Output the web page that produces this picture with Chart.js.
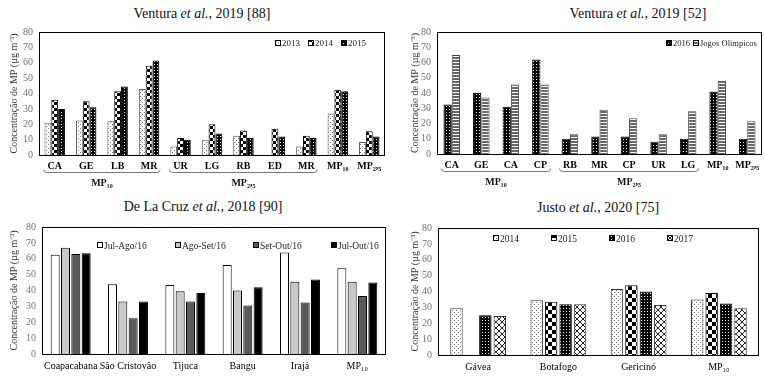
<!DOCTYPE html>
<html lang="pt">
<head>
<meta charset="UTF-8">
<title>Concentração de MP</title>
<script src="https://cdn.jsdelivr.net/npm/chart.js"></script>
<style>
    body {
        margin: 0;
        width: 765px;
        height: 376px;
        overflow: hidden;
        position: relative;
        background: #fff;
        font-family: "Liberation Serif", "Times New Roman", serif;
    }
    canvas { position: absolute; }
    .title {
        position: absolute;
        font-size: 14px;
        color: #111;
        white-space: nowrap;
        transform: translate(-50%, -50%);
    }
</style>
</head>
<body>
<div class="title" style="left:202px;top:14px">Ventura <i>et al.</i>, 2019 [88]</div>
<div class="title" style="left:638px;top:14px">Ventura <i>et al.</i>, 2019 [52]</div>
<div class="title" style="left:203px;top:207px">De La Cruz <i>et al.</i>, 2018 [90]</div>
<div class="title" style="left:598px;top:208px">Justo <i>et al.</i>, 2020 [75]</div>

<canvas id="tl" width="388" height="190" style="left:0;top:0"></canvas>
<canvas id="tr" width="377" height="190" style="left:388px;top:0"></canvas>
<canvas id="bl" width="388" height="186" style="left:0;top:190px"></canvas>
<canvas id="br" width="377" height="186" style="left:388px;top:190px"></canvas>

<script>
// Ventura et al., 2019 [88]
const tlCategories = ['CA', 'GE', 'LB', 'MR', 'UR', 'LG', 'RB', 'ED', 'MR', 'MP₁₀', 'MP₂,₅'];
const tl2013 = [21, 22.5, 22, 43, 5.5, 10, 12.5, null, 5.5, 27, 8.5];
const tl2014 = [36, 35, 41.5, 58, 11, 20, 16, 17, 12.5, 42.5, 15.5];
const tl2015 = [30, 31, 44.5, 61.5, 10, 14, 11, 12, 11, 41.5, 12];
const tlGroups = [{label: 'MP₁₀', from: 0, to: 3}, {label: 'MP₂,₅', from: 4, to: 8}];

// Ventura et al., 2019 [52]
const trCategories = ['CA', 'GE', 'CA', 'CP', 'RB', 'MR', 'CP', 'UR', 'LG', 'MP₁₀', 'MP₂,₅'];
const tr2016 = [32.5, 40, 31, 62, 10, 11.5, 11.5, 8, 10, 41, 10];
const trJogos = [65, 37, 45.5, 45.5, 13, 29, 23.5, 13, 28, 48, 21.5];
const trGroups = [{label: 'MP₁₀', from: 0, to: 3}, {label: 'MP₂,₅', from: 4, to: 8}];

// De La Cruz et al., 2018 [90]
const blCategories = ['Coapacabana', 'São Cristovão', 'Tijuca', 'Bangu', 'Irajá', 'MP₁₀'];
const blJulAgo = [62.5, 44, 43.5, 56, 64, 54];
const blAgoSet = [67, 33, 39.5, 40, 45.5, 45.5];
const blSetOut = [63, 22.5, 33, 30.5, 32.5, 36.5];
const blJulOut = [63.5, 33, 38.5, 42, 47, 45];

// Justo et al., 2020 [75]
const brCategories = ['Gávea', 'Botafogo', 'Gericinó', 'MP₁₀'];
const br2014 = [29.5, 34.5, 41.5, 35];
const br2015 = [null, 33.5, 44, 39];
const br2016 = [25, 32, 40, 32.5];
const br2017 = [24.5, 32, 31.5, 29.5];

const yTicksMax = 80;
const yTitle = 'Concentração de MP (µg m⁻³)';
const serif = '"Liberation Serif", "Times New Roman", serif';

// small tiles used as bar fills
function tile(w, h, draw) {
    const c = document.createElement('canvas');
    c.width = w; c.height = h;
    const g = c.getContext('2d');
    draw(g, w, h);
    return g.createPattern(c, 'repeat');
}
const lightDots = tile(4, 4, g => {
    g.fillStyle = '#fff'; g.fillRect(0, 0, 4, 4);
    g.fillStyle = '#777'; g.fillRect(0, 0, 1, 1); g.fillRect(2, 2, 1, 1);
});
const checkerSmall = tile(6, 6, g => {
    g.fillStyle = '#fff'; g.fillRect(0, 0, 6, 6);
    g.fillStyle = '#000'; g.fillRect(0, 0, 3, 3); g.fillRect(3, 3, 3, 3);
});
const checkerBig = tile(8, 8, g => {
    g.fillStyle = '#fff'; g.fillRect(0, 0, 8, 8);
    g.fillStyle = '#000'; g.fillRect(0, 0, 4, 4); g.fillRect(4, 4, 4, 4);
});
const darkDots = tile(3, 3, g => {
    g.fillStyle = '#000'; g.fillRect(0, 0, 3, 3);
    g.fillStyle = '#eee'; g.fillRect(1, 1, 1, 1);
});
const hStripes = tile(1, 3, g => {
    g.fillStyle = '#666'; g.fillRect(0, 0, 1, 2);
    g.fillStyle = '#fff'; g.fillRect(0, 2, 1, 1);
});
const diamonds = tile(6, 6, g => {
    g.fillStyle = '#fff'; g.fillRect(0, 0, 6, 6);
    g.fillStyle = '#222';
    for (let i = 0; i < 6; i++) { g.fillRect(i, i, 1, 1); g.fillRect(5 - i, i, 1, 1); }
});

// plot box, legend inside plot area, brackets under the category axis
const extras = {
    id: 'extras',
    afterDraw(chart, args, opts) {
        const ctx = chart.ctx;
        const a = chart.chartArea;
        ctx.save();
        ctx.lineWidth = 1;
        ctx.strokeStyle = '#000';
        ctx.strokeRect(Math.round(a.left) + 0.5, Math.round(a.top) + 0.5,
            Math.round(a.right - a.left) - 1, Math.round(a.bottom - a.top));

        const lg = opts.legend;
        ctx.font = lg.size + 'px ' + serif;
        ctx.textBaseline = 'middle';
        ctx.textAlign = 'left';
        chart.data.datasets.forEach((ds, i) => {
            const x = lg.x + i * lg.step;
            const y = lg.y;
            ctx.fillStyle = ds.backgroundColor;
            ctx.fillRect(x, y - 3, 6, 6);
            ctx.strokeStyle = '#000';
            ctx.strokeRect(x + 0.5, y - 2.5, 5, 5);
            ctx.fillStyle = '#222';
            ctx.fillText(ds.label, x + 7, y + 1);
        });

        const xs = chart.scales.x;
        const half = (xs.getPixelForTick(1) - xs.getPixelForTick(0)) * 0.35;
        (opts.groups || []).forEach(g => {
            const x0 = xs.getPixelForTick(g.from) - half;
            const x1 = xs.getPixelForTick(g.to) + half;
            const y = Math.round(a.bottom) + 17.5;
            ctx.strokeStyle = '#777';
            ctx.beginPath();
            ctx.moveTo(x0, y - 3);
            ctx.quadraticCurveTo(x0, y, x0 + 3, y);
            ctx.lineTo(x1 - 3, y);
            ctx.quadraticCurveTo(x1, y, x1, y - 3);
            ctx.stroke();
            ctx.fillStyle = '#111';
            ctx.font = 'bold 10px ' + serif;
            ctx.textAlign = 'center';
            ctx.fillText(g.label, (x0 + x1) / 2, a.bottom + 28);
        });
        ctx.restore();
    }
};

function makeChart(id, labels, datasets, cfg) {
    return new Chart(document.getElementById(id), {
        type: 'bar',
        data: {
            labels: labels,
            datasets: datasets.map(d => Object.assign({
                borderColor: '#000',
                borderWidth: 1,
                categoryPercentage: cfg.cat,
                barPercentage: cfg.bar
            }, d))
        },
        options: {
            responsive: false,
            animation: false,
            devicePixelRatio: 1,
            layout: { padding: cfg.padding },
            plugins: {
                legend: { display: false },
                tooltip: { enabled: false },
                extras: { legend: cfg.legend, groups: cfg.groups }
            },
            scales: {
                x: {
                    grid: { display: false, drawTicks: false },
                    border: { display: false },
                    ticks: {
                        color: '#000',
                        autoSkip: false,
                        maxRotation: 0,
                        padding: cfg.xPad,
                        font: { family: serif, size: 10, weight: cfg.xBold ? 'bold' : 'normal' }
                    },
                    afterFit: s => { s.height = cfg.xHeight; }
                },
                y: {
                    min: 0,
                    max: yTicksMax,
                    grid: { display: false, drawTicks: false },
                    border: { display: false },
                    ticks: { stepSize: 10, color: '#707070', padding: 6, font: { family: serif, size: 10 } },
                    title: {
                        display: true,
                        text: yTitle,
                        color: '#333',
                        font: { family: serif, size: 10 },
                        padding: { top: 8, bottom: 0 }
                    },
                    afterFit: s => { s.width = cfg.yWidth; }
                }
            }
        },
        plugins: [extras]
    });
}

makeChart('tl', tlCategories, [
    { label: '2013', data: tl2013, backgroundColor: lightDots, borderColor: '#555' },
    { label: '2014', data: tl2014, backgroundColor: checkerSmall },
    { label: '2015', data: tl2015, backgroundColor: darkDots }
], {
    cat: 0.65, bar: 1, padding: { left: 0, right: 3, top: 32, bottom: 0 },
    yWidth: 39, xHeight: 35, xPad: 5, xBold: true,
    legend: { x: 275, y: 43, step: 33, size: 9 }, groups: tlGroups
});

makeChart('tr', trCategories, [
    { label: '2016', data: tr2016, backgroundColor: darkDots },
    { label: 'Jogos Olimpicos', data: trJogos, backgroundColor: hStripes, borderColor: '#444' }
], {
    cat: 0.56, bar: 1, padding: { left: 13, right: 3, top: 32, bottom: 0 },
    yWidth: 36, xHeight: 36, xPad: 5, xBold: true,
    legend: { x: 278, y: 43, step: 27, size: 8.5 }, groups: trGroups
});

makeChart('bl', blCategories, [
    { label: 'Jul-Ago/16', data: blJulAgo, backgroundColor: '#ffffff' },
    { label: 'Ago-Set/16', data: blAgoSet, backgroundColor: '#c8c8c8' },
    { label: 'Set-Out/16', data: blSetOut, backgroundColor: '#5a5a5a' },
    { label: 'Jul-Out/16', data: blJulOut, backgroundColor: '#000000' }
], {
    cat: 0.72, bar: 0.87, padding: { left: 0, right: 2, top: 37, bottom: 0 },
    yWidth: 42, xHeight: 22, xPad: 6, xBold: false,
    legend: { x: 97, y: 55, step: 78, size: 9.5 }, groups: []
});

makeChart('br', brCategories, [
    { label: '2014', data: br2014, backgroundColor: lightDots, borderColor: '#333' },
    { label: '2015', data: br2015, backgroundColor: checkerBig },
    { label: '2016', data: br2016, backgroundColor: darkDots },
    { label: '2017', data: br2017, backgroundColor: diamonds, borderColor: '#333' }
], {
    cat: 0.72, bar: 0.86, padding: { left: 13, right: 6, top: 38, bottom: 0 },
    yWidth: 37, xHeight: 21, xPad: 6, xBold: false,
    legend: { x: 105, y: 48, step: 58, size: 9.5 }, groups: []
});
</script>
</body>
</html>
